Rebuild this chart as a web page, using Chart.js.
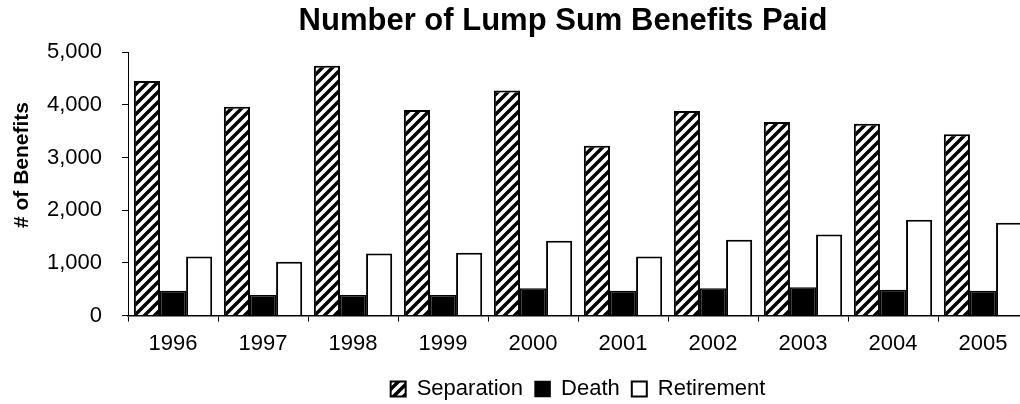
<!DOCTYPE html>
<html>
<head>
<meta charset="utf-8">
<script src="https://cdn.jsdelivr.net/npm/chart.js@4.4.1/dist/chart.umd.min.js"></script>
<style>
  html, body { margin: 0; padding: 0; background: #fff; overflow: hidden; }
  #wrap { width: 1130px; height: 404px; }
</style>
</head>
<body>
<div id="wrap"><canvas id="myChart" width="1130" height="404"></canvas></div>
<script>
const years = ['1996', '1997', '1998', '1999', '2000', '2001', '2002', '2003', '2004', '2005'];
const separation = [4450, 3960, 4740, 3900, 4270, 3220, 3880, 3670, 3640, 3440];
const death = [470, 390, 390, 390, 520, 470, 520, 540, 490, 470];
const retirement = [1120, 1020, 1180, 1190, 1420, 1120, 1440, 1540, 1820, 1760];

const chartTitle = 'Number of Lump Sum Benefits Paid';
const yTitle = '# of Benefits';
const fontFamily = 'Arial, "Liberation Sans", sans-serif';

// diagonal "/" hatch for the separation bars
function hatch() {
  const s = 10;
  const c = document.createElement('canvas');
  c.width = s; c.height = s;
  const g = c.getContext('2d');
  g.fillStyle = '#fff';
  g.fillRect(0, 0, s, s);
  g.strokeStyle = '#000';
  g.lineWidth = 3.5;
  g.beginPath();
  g.moveTo(-2, s + 2); g.lineTo(s + 2, -2);
  g.moveTo(-2, 2); g.lineTo(2, -2);
  g.moveTo(s - 2, s + 2); g.lineTo(s + 2, s - 2);
  g.stroke();
  return g.createPattern(c, 'repeat');
}

// title and y axis title drawn by hand so they sit where the original has them
const titles = {
  id: 'titles',
  afterDraw(chart) {
    const ctx = chart.ctx;
    ctx.save();
    ctx.fillStyle = '#000';
    ctx.textAlign = 'center';
    ctx.textBaseline = 'middle';
    ctx.font = 'bold 31px ' + fontFamily;
    ctx.fillText(chartTitle, 563, 21);
    ctx.translate(22, 165);
    ctx.rotate(-Math.PI / 2);
    ctx.font = 'bold 21px ' + fontFamily;
    ctx.fillText(yTitle, 0, 0);
    ctx.restore();
  }
};

const myChart = new Chart('myChart', {
  type: 'bar',
  data: {
    labels: years,
    datasets: [
      {
        label: 'Separation',
        data: separation,
        backgroundColor: hatch(),
        borderColor: '#000',
        borderWidth: 2
      },
      {
        label: 'Death',
        data: death,
        backgroundColor: '#000',
        borderColor: '#000',
        borderWidth: 1.5
      },
      {
        label: 'Retirement',
        data: retirement,
        backgroundColor: '#fff',
        borderColor: '#000',
        borderWidth: 2
      }
    ]
  },
  options: {
    responsive: false,
    animation: false,
    categoryPercentage: 0.87,
    barPercentage: 1.0,
    layout: {
      padding: { left: 27, right: 102, top: 52, bottom: -6 }
    },
    plugins: {
      title: { display: false },
      tooltip: { enabled: false },
      legend: {
        position: 'bottom',
        fullSize: false,
        labels: {
          color: '#000',
          font: { family: fontFamily, size: 22 },
          boxWidth: 15,
          boxHeight: 15,
          padding: 12
        }
      }
    },
    scales: {
      x: {
        grid: {
          display: true,
          drawOnChartArea: false,
          offset: true,
          color: '#000',
          tickLength: 6,
          tickWidth: 1
        },
        border: { color: '#000', width: 1.5 },
        ticks: {
          color: '#000',
          font: { family: fontFamily, size: 22 },
          padding: 9,
          maxRotation: 0
        }
      },
      y: {
        min: 0,
        max: 5000,
        grid: {
          drawOnChartArea: false,
          color: '#000',
          tickLength: 6
        },
        border: { color: '#000', width: 1 },
        ticks: {
          stepSize: 1000,
          color: '#000',
          padding: 20,
          font: { family: fontFamily, size: 22 },
          callback: v => v.toLocaleString('en-US')
        }
      }
    }
  },
  plugins: [titles]
});
</script>
</body>
</html>
